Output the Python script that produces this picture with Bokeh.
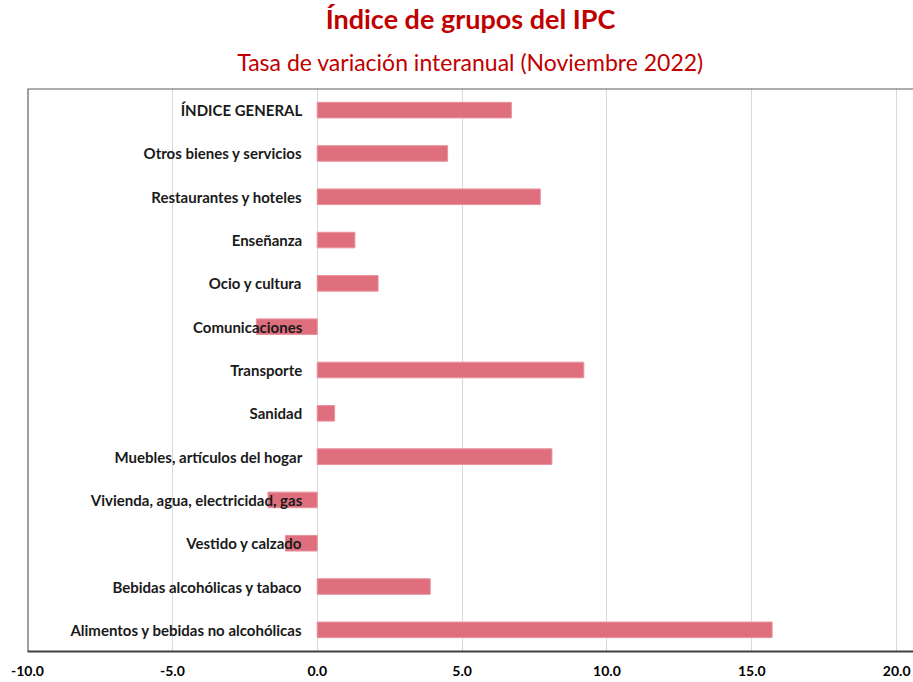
from bokeh.plotting import figure
from bokeh.models import Range1d, FactorRange, FixedTicker, NumeralTickFormatter, Span, Title, ColumnDataSource
from bokeh.core.properties import value
from bokeh.embed import file_html
from bokeh.resources import INLINE

categories = ["ÍNDICE GENERAL", "Otros bienes y servicios", "Restaurantes y hoteles",
              "Enseñanza", "Ocio y cultura", "Comunicaciones", "Transporte", "Sanidad",
              "Muebles, artículos del hogar", "Vivienda, agua, electricidad, gas",
              "Vestido y calzado", "Bebidas alcohólicas y tabaco",
              "Alimentos y bebidas no alcohólicas"]
values = [6.7, 4.5, 7.7, 1.3, 2.1, -2.1, 9.2, 0.6, 8.1, -1.7, -1.1, 3.9, 15.7]
x_ticks = [-10, -5, 0, 5, 10, 15, 20]

title_text = "Índice de grupos del IPC"
subtitle_text = "Tasa de variación interanual (Noviembre 2022)"

src = ColumnDataSource(dict(cat=categories, val=values, zero=[0] * len(values)))

p = figure(width=913, height=682, output_backend="svg", toolbar_location=None,
           x_range=Range1d(-10, 20.58),
           y_range=FactorRange(factors=list(reversed(categories)), range_padding=0),
           min_border_left=27, min_border_right=0, min_border_top=88, min_border_bottom=31)

p.add_layout(Title(text=subtitle_text, align="center", text_font="Lato",
                   text_font_size="23px", text_font_style="normal", text_color="#C00000",
                   vertical_align="top", standoff=21), "above")
p.add_layout(Title(text=title_text, align="center", text_font="Lato",
                   text_font_size="27px", text_font_style="bold", text_color="#C00000",
                   vertical_align="top", standoff=1), "above")

p.hbar(y="cat", left="zero", right="val", height=0.36, source=src,
       fill_color="#E06F7E", line_color="#E8929D", line_width=1)

p.text(x="zero", y="cat", text="cat", source=src, x_offset=-15,
       text_align="right", text_baseline="middle",
       text_font=value("Lato"), text_font_size="15px", text_font_style="bold",
       text_color="#1A1A1A")

p.yaxis.visible = False
p.ygrid.visible = False
p.xgrid.ticker = FixedTicker(ticks=x_ticks)
p.xgrid.grid_line_color = "#D9D9D9"
p.xgrid.grid_line_width = 1

xa = p.xaxis[0]
xa.ticker = FixedTicker(ticks=x_ticks)
xa.formatter = NumeralTickFormatter(format="0.0")
xa.axis_line_color = "#404040"
xa.axis_line_width = 2
xa.major_tick_line_color = None
xa.minor_tick_line_color = None
xa.major_tick_out = 0
xa.major_label_standoff = 14
xa.major_label_text_font = "Lato"
xa.major_label_text_font_size = "14px"
xa.major_label_text_font_style = "bold"
xa.major_label_text_color = "#000000"

p.outline_line_color = None
p.add_layout(Span(location=-10, dimension="height", line_color="#404040", line_width=2))
p.add_layout(Span(location=len(categories), dimension="width", line_color="#5F5F5F", line_width=2))

p.background_fill_color = "white"
p.border_fill_color = "white"

open("out.html", "w").write(file_html(p, INLINE))
